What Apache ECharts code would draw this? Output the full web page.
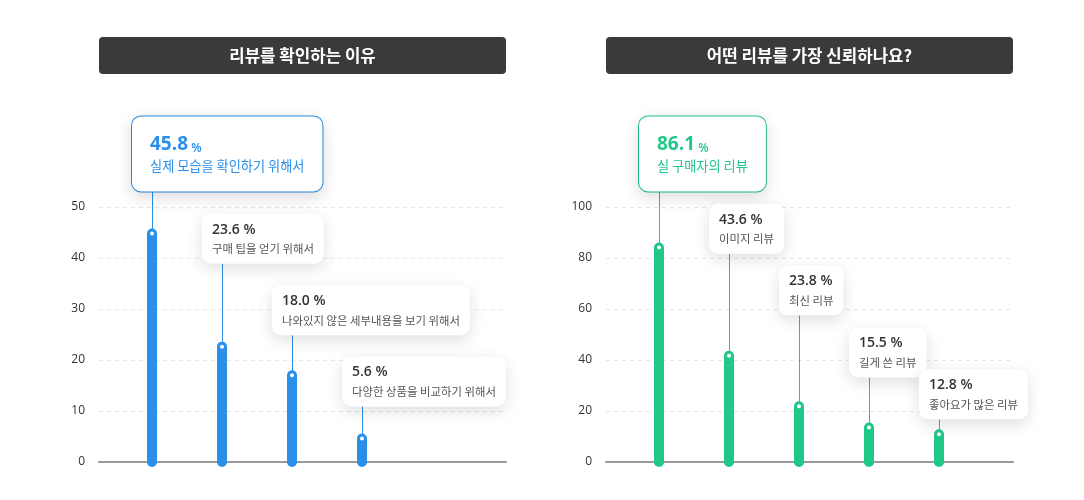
<!DOCTYPE html>
<html><head><meta charset="utf-8">
<script src="https://cdn.jsdelivr.net/npm/echarts@6/dist/echarts.min.js"></script>
<style>html,body{margin:0;padding:0;background:#fff}#c{width:1084px;height:500px}</style>
</head><body><div id="c"></div>
<script>
// ---- data ----
const leftTitle = '리뷰를 확인하는 이유';
const leftCategories = ['실제 모습을 확인하기 위해서', '구매 팁을 얻기 위해서', '나와있지 않은 세부내용을 보기 위해서', '다양한 상품을 비교하기 위해서'];
const leftValues = [45.8, 23.6, 18.0, 5.6];
const leftTicks = [0, 10, 20, 30, 40, 50];

const rightTitle = '어떤 리뷰를 가장 신뢰하나요?';
const rightCategories = ['실 구매자의 리뷰', '이미지 리뷰', '최신 리뷰', '길게 쓴 리뷰', '좋아요가 많은 리뷰'];
const rightValues = [86.1, 43.6, 23.8, 15.5, 12.8];
const rightTicks = [0, 20, 40, 60, 80, 100];

// ---- layout / style ----
const BLUE = '#2a8fe8';
const GREEN = '#20c788';
const FONT = '"Open Sans", "Noto Sans CJK KR", sans-serif';
const KFONT = '"Noto Sans CJK KR", sans-serif';
const leftLift = [37, 78, 35, 27];      // px gap between bar top and callout
const rightLift = [51, 97, 86, 45, 10];
const GRID_W = 407, FIRST = 53, STEP = 70;

function makeRender(cats, color, lifts) {
  return function (params, api) {
    const i = params.dataIndex;
    const v = api.value(1);
    const top = api.coord([api.value(0), v]);
    const base = api.coord([api.value(0), 0]);
    const x = top[0];
    const lift = lifts[i];
    const hi = i === 0;
    const txt = hi
      ? '{V|' + v.toFixed(1) + '}{p| %}\n{S|' + cats[i] + '}'
      : '{v|' + v.toFixed(1) + ' %}\n{s|' + cats[i] + '}';
    const style = {
      text: txt,
      x: x - 20,
      y: top[1] - lift,
      align: 'left', textAlign: 'left',
      verticalAlign: 'bottom', textVerticalAlign: 'bottom',
      backgroundColor: '#fff',
      borderRadius: 9,
      padding: hi ? [12, 18, 13, 18] : [6, 10, 6, 10],
      borderColor: hi ? color : 'rgba(0,0,0,0)',
      borderWidth: hi ? 1 : 0,
      shadowBlur: 16,
      shadowColor: 'rgba(0,0,0,0.13)',
      shadowOffsetY: 5,
      rich: {
        V: { fontFamily: FONT, fontSize: 19, fontWeight: 'bold', fill: color, lineHeight: 26, verticalAlign: 'bottom' },
        p: { fontFamily: FONT, fontSize: 12, fontWeight: 600, fill: color, lineHeight: 20, verticalAlign: 'bottom' },
        S: { fontFamily: KFONT, fontSize: 13.2, fill: color, lineHeight: 24 },
        v: { fontFamily: FONT, fontSize: 14, fontWeight: 600, fill: '#333', lineHeight: 20 },
        s: { fontFamily: KFONT, fontSize: 11.4, fill: '#555', lineHeight: 18 }
      }
    };
    return {
      type: 'group',
      children: [
        { type: 'line', shape: { x1: x + 0.5, y1: top[1] - lift, x2: x + 0.5, y2: top[1] + 5 }, style: { stroke: color, lineWidth: 1 } },
        { type: 'rect', shape: { x: x - 5, y: top[1], width: 10, height: base[1] - top[1] + 5, r: 5 }, style: { fill: color } },
        { type: 'circle', shape: { cx: x, cy: top[1] + 5, r: 2 }, style: { fill: '#fff' } },
        { type: 'text', z2: 10, style: style }
      ]
    };
  };
}

function yAxisFor(ticks, gridIndex) {
  return {
    type: 'value', gridIndex: gridIndex,
    min: ticks[0], max: ticks[ticks.length - 1], interval: ticks[1] - ticks[0],
    axisLine: { show: false, onZero: false },
    axisTick: { show: false },
    axisLabel: { color: '#333', fontSize: 12, margin: 14, fontFamily: FONT },
    splitLine: { lineStyle: { type: [4, 4], color: '#e6e6e6', width: 1 } }
  };
}
function xAxisFor(gridIndex) {
  const mn = -FIRST / STEP;
  return {
    type: 'value', gridIndex: gridIndex,
    min: mn, max: mn + GRID_W / STEP,
    axisLine: { show: true, onZero: false, lineStyle: { color: '#9a9a9a', width: 2 } },
    axisTick: { show: false }, axisLabel: { show: false }, splitLine: { show: false }
  };
}

function titleBar(x, text) {
  return [
    { type: 'rect', shape: { x: x, y: 37, width: GRID_W, height: 37, r: 4 }, style: { fill: '#3a3a3a' } },
    { type: 'text', style: { text: text, x: x + GRID_W / 2, y: 56, fill: '#fff', fontFamily: KFONT, fontSize: 16.8, fontWeight: 'bold', align: 'center', textAlign: 'center', verticalAlign: 'middle', textVerticalAlign: 'middle' } }
  ];
}

const chart = echarts.init(document.getElementById('c'), null, { renderer: 'canvas' });
chart.setOption({
  animation: false,
  backgroundColor: '#fff',
  grid: [
    { left: 99, top: 207, width: GRID_W, bottom: 38 },
    { left: 606, top: 207, width: GRID_W, bottom: 38 }
  ],
  xAxis: [xAxisFor(0), xAxisFor(1)],
  yAxis: [yAxisFor(leftTicks, 0), yAxisFor(rightTicks, 1)],
  graphic: [].concat(titleBar(99, leftTitle), titleBar(606, rightTitle)),
  series: [
    {
      type: 'custom', xAxisIndex: 0, yAxisIndex: 0, clip: false,
      data: leftValues.map((v, i) => [i, v]),
      encode: { x: 0, y: 1 },
      renderItem: makeRender(leftCategories, BLUE, leftLift)
    },
    {
      type: 'custom', xAxisIndex: 1, yAxisIndex: 1, clip: false,
      data: rightValues.map((v, i) => [i, v]),
      encode: { x: 0, y: 1 },
      renderItem: makeRender(rightCategories, GREEN, rightLift)
    }
  ]
});
</script>
</body></html>
